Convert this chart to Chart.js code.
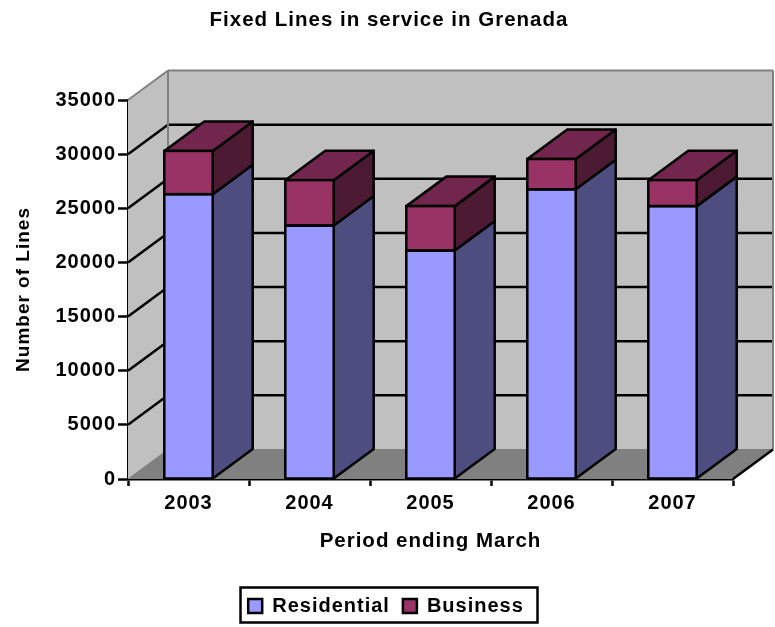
<!DOCTYPE html>
<html><head><meta charset="utf-8">
<style>html,body{margin:0;padding:0;background:#fff}canvas{display:block}</style>
<script src="https://cdn.jsdelivr.net/npm/chart.js@4"></script>
</head><body>
<canvas id="c" width="775" height="627"></canvas>
<script>
const categories = ['2003','2004','2005','2006','2007'];
const residential = [26300,23400,21100,26750,25200];
const business = [4000,4200,4100,2800,2400];
const yMax = 35000, yStep = 5000;
const titleText = 'Fixed Lines in service in Grenada';
const xTitle = 'Period ending March', yTitle = 'Number of Lines';

const DX = 40, DY = -29.5;
const LW = 2.5;
const FAMILY = '"Liberation Sans", Arial, sans-serif';
const SPACING = '1px';
function poly(ctx, pts, fill, stroke, lw){
  ctx.beginPath();
  pts.forEach((p,i)=> i?ctx.lineTo(p[0],p[1]):ctx.moveTo(p[0],p[1]));
  ctx.closePath();
  if(fill){ctx.fillStyle=fill;ctx.fill();}
  if(stroke){ctx.strokeStyle=stroke;ctx.lineWidth=lw||LW;ctx.lineJoin='round';ctx.stroke();}
}
function line(ctx,a,b,c,lw){ctx.beginPath();ctx.moveTo(a[0],a[1]);ctx.lineTo(b[0],b[1]);ctx.strokeStyle=c;ctx.lineWidth=lw;ctx.stroke();}
const faces = [
  {side:'#4D4D80'},
  {side:'#4D1A33', top:'#73264D'}
];
const scene = {
  id:'scene',
  beforeUpdate(chart){ chart.ctx.letterSpacing=SPACING; },
  afterLayout(chart){
    chart.titleBlock.left=3; chart.titleBlock.right=775;
    chart.legend.left=1; chart.legend.right=771;
  },
  beforeDraw(chart){ chart.ctx.letterSpacing=SPACING; },
  beforeDatasetsDraw(chart){
    const ctx=chart.ctx, a=chart.chartArea, y=chart.scales.y;
    const L=a.left,R=a.right,T=y.getPixelForValue(yMax),B=y.getPixelForValue(0);
    ctx.save();
    poly(ctx,[[L,T],[L+DX,T+DY],[L+DX,B+DY],[L,B]],'#C0C0C0');
    poly(ctx,[[L+DX,T+DY],[R+DX,T+DY],[R+DX,B+DY],[L+DX,B+DY]],'#C0C0C0');
    poly(ctx,[[L,B],[L+DX,B+DY],[R+DX,B+DY],[R,B]],'#808080');
    for(let v=yStep;v<yMax;v+=yStep){
      const p=y.getPixelForValue(v);
      line(ctx,[L,p],[L+DX,p+DY],'#000',LW);
      line(ctx,[L+DX,p+DY],[R+DX,p+DY],'#000',LW);
    }
    line(ctx,[L,T],[L+DX,T+DY],'#808080',2);
    line(ctx,[L+DX,T+DY],[R+DX,T+DY],'#808080',2);
    line(ctx,[L+DX,T+DY],[L+DX,B+DY],'#808080',2);
    line(ctx,[R+DX,T+DY],[R+DX,B+DY],'#808080',2);
    line(ctx,[L,B],[L+DX,B+DY],'#808080',1);
    line(ctx,[L+DX,B+DY],[R+DX,B+DY],'#808080',1);
    line(ctx,[R,B],[R+DX,B+DY],'#000',LW);
    chart.data.datasets.forEach((ds,di)=>{
      chart.getDatasetMeta(di).data.forEach(el=>{
        const p=el.getProps(['x','y','base','width'],true);
        const xr=p.x+p.width/2, xl=p.x-p.width/2;
        poly(ctx,[[xr,p.y],[xr+DX,p.y+DY],[xr+DX,p.base+DY],[xr,p.base]],faces[di].side,'#000',LW);
        if(faces[di].top) poly(ctx,[[xl,p.y],[xl+DX,p.y+DY],[xr+DX,p.y+DY],[xr,p.y]],faces[di].top,'#000',LW);
      });
    });
    ctx.restore();
  },
  afterDatasetsDraw(chart){
    const ctx=chart.ctx;
    ctx.save();
    chart.data.datasets.forEach((ds,di)=>{
      chart.getDatasetMeta(di).data.forEach(el=>{
        const p=el.getProps(['x','y','base','width'],true);
        ctx.strokeStyle='#000';ctx.lineWidth=LW;
        ctx.strokeRect(p.x-p.width/2,p.y,p.width,p.base-p.y);
      });
    });
    ctx.restore();
  },
  afterDraw(chart){
    const ctx=chart.ctx;
    ctx.save();ctx.strokeStyle='#000';ctx.lineWidth=LW;
    ctx.strokeRect(240.5,587.5,297,35);
    ctx.restore();
  }
};
new Chart(document.getElementById('c'),{
  type:'bar',
  data:{labels:categories,datasets:[
    {label:'Residential',data:residential,backgroundColor:'#9999FF',borderColor:'#000',borderWidth:0,barPercentage:0.4,categoryPercentage:1},
    {label:'Business',data:business,backgroundColor:'#993366',borderColor:'#000',borderWidth:0,barPercentage:0.4,categoryPercentage:1}
  ]},
  plugins:[scene],
  options:{
    responsive:false,animation:false,
    layout:{padding:{left:0,right:42,top:0,bottom:1}},
    plugins:{
      tooltip:{enabled:false},
      title:{display:true,text:titleText,color:'#000',font:{family:FAMILY,size:20.5,weight:'bold'},padding:{top:8,bottom:67.4}},
      legend:{position:'bottom',labels:{color:'#000',boxWidth:14,boxHeight:14,padding:13,font:{family:FAMILY,size:20,weight:'bold'},
        generateLabels(c){return c.data.datasets.map((d,i)=>({text:d.label,fillStyle:d.backgroundColor,strokeStyle:'#000',lineWidth:LW,datasetIndex:i}));}}}
    },
    scales:{
      x:{stacked:true,
        grid:{drawOnChartArea:false,drawTicks:true,tickLength:7,tickWidth:LW,tickColor:'#000'},
        border:{color:'#000',width:LW},
        ticks:{color:'#000',maxRotation:0,padding:5,font:{family:FAMILY,size:20,weight:'bold'}},
        title:{display:true,text:xTitle,color:'#000',font:{family:FAMILY,size:20.5,weight:'bold'},padding:{top:10,bottom:29}},
        afterFit(s){s.height=104;}
      },
      y:{stacked:true,min:0,max:yMax,
        grid:{drawOnChartArea:false,drawTicks:true,tickLength:10,tickWidth:LW,tickColor:'#000'},
        border:{color:'#000',width:LW},
        ticks:{stepSize:yStep,color:'#000',padding:2,callback:v=>String(v),font:{family:FAMILY,size:20,weight:'bold'}},
        title:{display:true,text:yTitle,color:'#000',font:{family:FAMILY,size:19,weight:'bold'},padding:{top:12,bottom:0}},
        afterFit(s){s.width=128;}
      }
    }
  }
});
</script>
</body></html>
